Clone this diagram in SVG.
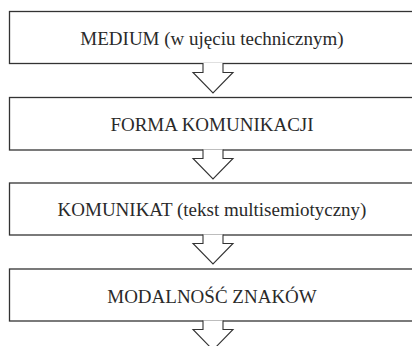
<svg xmlns="http://www.w3.org/2000/svg" width="412" height="346" viewBox="0 0 412 346">
<style>
.box{fill:#fff;stroke:#333;stroke-width:1.3}
.arr{fill:#fff;stroke:#333;stroke-width:1.1}
.lbl{font-family:"Liberation Serif","Times New Roman",serif;font-size:19px;fill:#2a2a2a;text-anchor:middle}
</style>
<rect width="412" height="346" fill="#fff"/>
<g id="n1"><rect class="box" x="9.5" y="11.5" width="420" height="52"/><text class="lbl" x="212" y="44.5">MEDIUM (w ujęciu technicznym)</text></g>
<g id="n2"><rect class="box" x="9.5" y="97.5" width="420" height="52.5"/><text class="lbl" x="212" y="131">FORMA KOMUNIKACJI</text></g>
<g id="n3"><rect class="box" x="9.5" y="183" width="420" height="52"/><text class="lbl" x="212" y="216">KOMUNIKAT (tekst multisemiotyczny)</text></g>
<g id="n4"><rect class="box" x="9.5" y="269" width="420" height="52"/><text class="lbl" x="212" y="303">MODALNOŚĆ ZNAKÓW</text></g>
<g id="connectors">
<path class="arr" d="M203,63 V72.5 H193 L213,93 L233,72.5 H223 V63"/>
<path class="arr" d="M203,149.5 V158.5 H193 L213,179 L233,158.5 H223 V149.5"/>
<path class="arr" d="M203,234.5 V243.5 H193 L213,264 L233,243.5 H223 V234.5"/>
<path class="arr" d="M203,320.5 V329.5 H193 L213,350 L233,329.5 H223 V320.5"/>
</g>
</svg>
